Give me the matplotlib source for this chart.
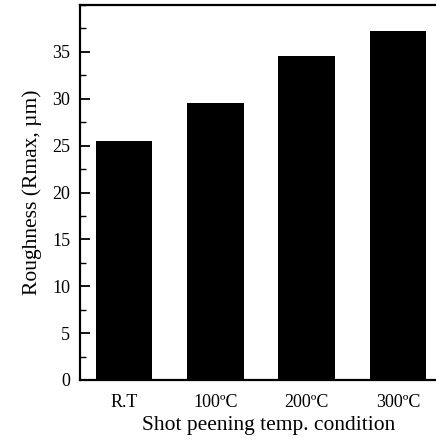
import matplotlib
matplotlib.use("Agg")
import matplotlib.pyplot as plt
from matplotlib.ticker import MultipleLocator

#bar chart of roughness vs shot peening temperature
conditions=["R.T", "100ºC", "200ºC", "300ºC"]
roughness=[25.5, 29.5, 34.6, 37.2]

plt.rcParams['font.family']=['Liberation Serif', 'DejaVu Serif']

fig=plt.figure(figsize=(4.36, 4.41), dpi=100)
ax=fig.add_axes([80/436, 61/441, 362/436, 375/441])

x=list(range(len(conditions)))
ax.bar(x, roughness, 0.62, color='black')

ax.set_xlim(-0.48, 3.48)
ax.set_ylim(0, 40)
ax.set_xticks(x)
ax.set_xticklabels(conditions)
ax.yaxis.set_major_locator(MultipleLocator(5))
ax.yaxis.set_minor_locator(MultipleLocator(2.5))
ax.set_yticks([0, 5, 10, 15, 20, 25, 30, 35])

ax.tick_params(axis='both', which='major', direction='in', length=7, width=1.3, labelsize=13)
ax.tick_params(axis='both', which='minor', direction='in', length=4, width=1.0)
ax.tick_params(axis='x', length=3, pad=10)
ax.tick_params(axis='y', pad=7)
for s in ax.spines.values():
	s.set_linewidth(1.6)

ax.set_ylabel("Roughness (Rmax, µm)", fontsize=15.5, labelpad=7)
ax.set_xlabel("Shot peening temp. condition", fontsize=15.5, labelpad=3)
ax.xaxis.set_label_coords(0.52, -0.095)

fig.savefig("out.png", dpi=100)
